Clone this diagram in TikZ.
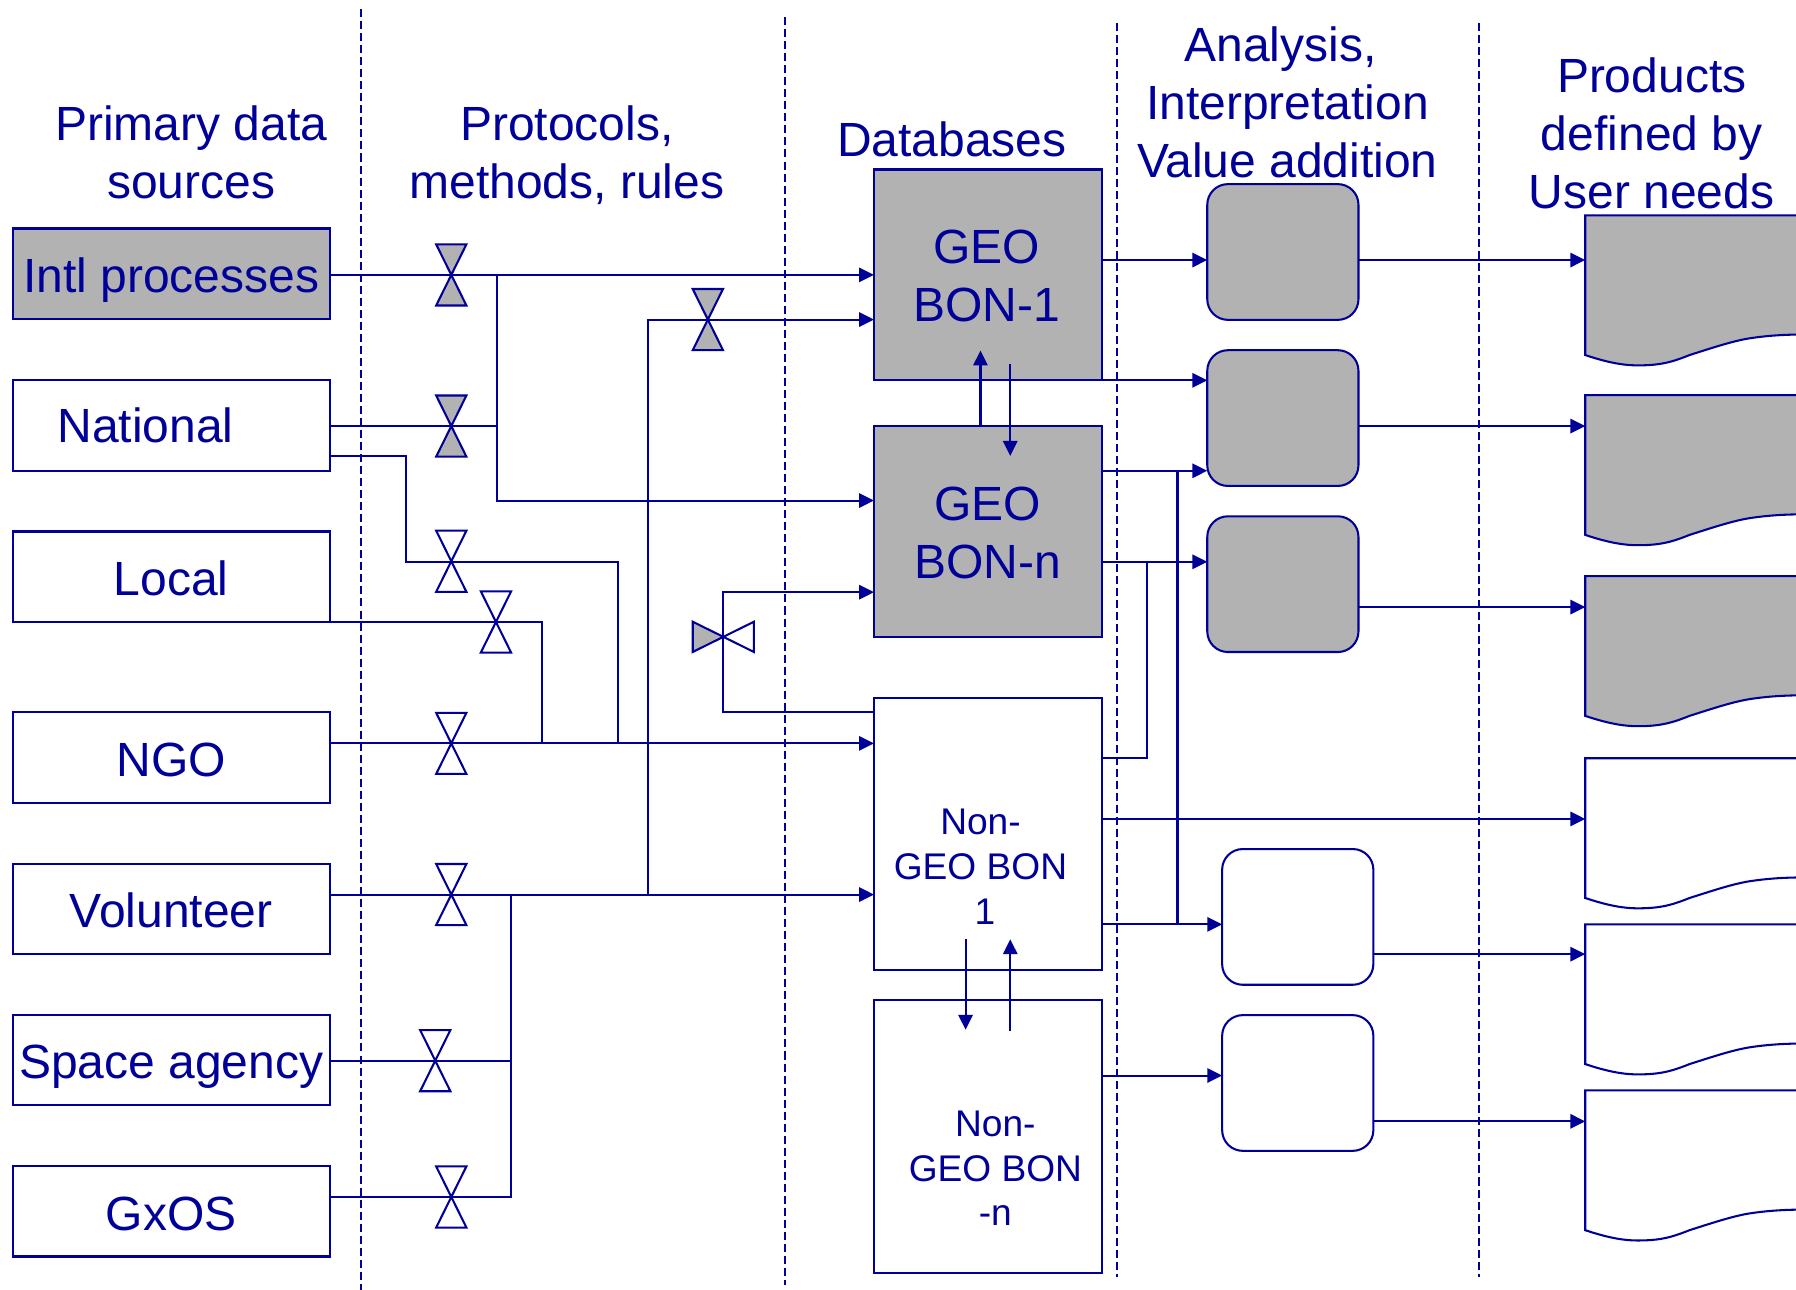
\documentclass[tikz,border=0pt]{standalone}
\usepackage{fontspec}
\setmainfont{Liberation Sans}
\usetikzlibrary{arrows.meta}
\definecolor{bl}{HTML}{000099}
\definecolor{gy}{HTML}{B2B2B2}
\newcommand{\bigfont}{\fontsize{41.9}{50.6}\selectfont}
\newcommand{\smallfont}{\fontsize{32.4}{39.2}\selectfont}
\newcommand{\vvalve}[4]{%
  \node[valvebox] (#1) at (#2,#3) {};
  \draw[flow,fill=#4] (#1.north west) -- (#1.north east) -- (#1.south west) -- (#1.south east) -- cycle;}
\newcommand{\docu}[3]{%
  \coordinate (#1) at (1384,#2);
  \draw[flow,fill=#3] (1578,#2) -- (1384,#2) -- ++(0,122)
    .. controls +(18,6) and +(-14,0) .. ++(46,9)
    .. controls +(20,0) and +(-15,6) .. ++(45,-9)
    .. controls +(22,-7) and +(-15,2) .. ++(55,-15)
    .. controls +(14,-2) and +(-20,0) .. ++(48,-3) -- (1578,#2+104);}
\tikzset{
  flow/.style={draw=bl,line width=1.8pt},
  arr/.style={flow,-{Triangle[length=13pt,width=12.5pt]}},
  sep/.style={draw=bl,line width=1.6pt,dash pattern=on 7pt off 3.5pt},
  boxn/.style={draw=bl,line width=1.8pt,fill=white,minimum width=277pt,minimum height=79pt,inner sep=0pt,text=bl,font=\bigfont,text height=33pt,text depth=0pt},
  dbbox/.style={draw=bl,line width=1.8pt,fill=gy,minimum width=199pt,inner sep=0pt,text=bl,font=\bigfont,align=center},
  rbox/.style={draw=bl,line width=1.8pt,rounded corners=18pt,minimum width=132pt,minimum height=118.5pt,inner sep=0pt},
  valvebox/.style={minimum width=26pt,minimum height=53pt,inner sep=0pt},
  hd/.style={text=bl,font=\bigfont,align=center,inner sep=0pt},
  sm/.style={text=bl,font=\smallfont,align=center,inner sep=0pt},
}
\begin{document}
\begin{tikzpicture}[x=1pt,y=-1pt]
\useasboundingbox (0,0) rectangle (1568,1126);
\fill[white] (0,0) rectangle (1568,1126);
% separators
\coordinate (s1a) at (315,8); \coordinate (s1b) at (315,1126);
\coordinate (s2a) at (685,15); \coordinate (s2b) at (685,1122);
\coordinate (s3a) at (975,20); \coordinate (s3b) at (975,1115);
\coordinate (s4a) at (1291,20); \coordinate (s4b) at (1291,1115);
\draw[sep] (s1a) -- (s1b); \draw[sep] (s2a) -- (s2b);
\draw[sep] (s3a) -- (s3b); \draw[sep] (s4a) -- (s4b);
% headers
\node[hd] (h1) at (167,133) {Primary data\\sources};
\node[hd] (h2) at (495,135.5) {Protocols,\\methods, rules};
\node[hd] (h3) at (831,122) {Databases};
\node[hd] (h4) at (1124,89) {Analysis,\hspace*{12pt}\\Interpretation\\Value addition};
\node[hd] (h5) at (1442,116.5) {Products\\defined by\\User needs};
% source boxes
\node[boxn,fill=gy] (intl) at (149.5,239) {Intl processes};
\node[boxn] (nat) at (149.5,371.5) {};
\node[hd] (natt) at (127,371) {National};
\node[boxn] (loc) at (149.5,503.5) {Local};
\node[boxn] (ngo) at (149.5,661.5) {NGO};
\node[boxn] (vol) at (149.5,793.5) {Volunteer};
\node[boxn] (spa) at (149.5,925.5) {Space agency};
\node[boxn] (gxo) at (149.5,1057.5) {GxOS};
% databases
\node[dbbox,minimum height=184pt] (g1) at (862.5,240) {};
\node[hd] (g1t) at (861.5,241) {GEO\\BON-1};
\node[dbbox,minimum height=184pt] (gn) at (862.5,464) {};
\node[hd] (gnt) at (862.5,465) {GEO\\BON-n};
\node[dbbox,fill=white,minimum height=238pt] (n1) at (862.5,728) {};
\node[dbbox,fill=white,minimum height=238pt] (nn) at (862.5,992) {};
\node[sm] (n1t) at (856,756.5) {Non-\\GEO BON\\\hspace*{8pt}1};
\node[sm] (nnt) at (869,1020) {Non-\\GEO BON\\-n};
% analysis boxes
\node[rbox,fill=gy] (a1) at (1120,220) {};
\node[rbox,fill=gy] (a2) at (1120,365) {};
\node[rbox,fill=gy] (a3) at (1120,510) {};
\node[rbox,fill=white] (a4) at (1133,800.5) {};
\node[rbox,fill=white] (a5) at (1133,945.5) {};
% products
\docu{p1}{188}{gy}
\docu{p2}{345}{gy}
\docu{p3}{503}{gy}
\docu{p4}{662}{white}
\docu{p5}{807}{white}
\docu{p6}{952}{white}
% valves
\vvalve{v1}{394}{240}{gy}
\vvalve{v2}{394}{372}{gy}
\vvalve{v3}{618}{279}{gy}
\vvalve{v4}{394}{490}{white}
\vvalve{v5}{433}{543}{white}
\vvalve{v6}{394}{649}{white}
\vvalve{v7}{394}{781}{white}
\vvalve{v8}{380}{926}{white}
\vvalve{v9}{394}{1045}{white}
\node[minimum width=53pt,minimum height=26pt,inner sep=0pt] (v10) at (631.5,556) {};
\draw[flow,fill=gy] (v10.north west) -- (v10.center) -- (v10.south west) -- cycle;
\draw[flow,fill=white] (v10.north east) -- (v10.center) -- (v10.south east) -- cycle;
% left-side ports and junctions
\coordinate (intlP) at (288,240); \coordinate (g1A) at (763,240);
\coordinate (jA) at (433.5,240); \coordinate (gnA) at (763,437);
\coordinate (natP) at (288,372); \coordinate (jB) at (433.5,372);
\coordinate (natQ) at (288,398);
\coordinate (jC) at (539.5,649);
\coordinate (locP) at (288,543); \coordinate (jD) at (473.5,649);
\coordinate (ngoP) at (288,649); \coordinate (n1A) at (763,649);
\coordinate (volP) at (288,781); \coordinate (n1B) at (763,781);
\coordinate (jE) at (566,781); \coordinate (g1B) at (763,279);
\coordinate (jF) at (446.5,781); \coordinate (jG) at (446.5,926);
\coordinate (spaP) at (288,926); \coordinate (gxoP) at (288,1045);
\coordinate (n1C) at (763,622); \coordinate (gnB) at (763,517);
\draw[arr] (intlP) -- (g1A);
\draw[arr] (jA) -- (433.5,437) -- (gnA);
\draw[flow] (natP) -- (jB);
\draw[flow] (natQ) -- (354.5,398) -- (354.5,490.5) -- (539.5,490.5) -- (jC);
\draw[flow] (locP) -- (473.5,543) -- (jD);
\draw[arr] (ngoP) -- (n1A);
\draw[arr] (volP) -- (n1B);
\draw[arr] (jE) -- (566,279) -- (g1B);
\draw[flow] (jF) -- (446.5,1045) -- (gxoP);
\draw[flow] (spaP) -- (jG);
\draw[arr] (n1C) -- (631.5,622) -- (631.5,517) -- (gnB);
% between databases
\coordinate (u1) at (856,372); \coordinate (u2) at (856,306);
\coordinate (d1) at (882,318); \coordinate (d2) at (882,398);
\draw[arr] (u1) -- (u2); \draw[arr] (d1) -- (d2);
\coordinate (d3) at (843,820); \coordinate (d4) at (843,899);
\coordinate (u3) at (882,900); \coordinate (u4) at (882,820);
\draw[arr] (d3) -- (d4); \draw[arr] (u3) -- (u4);
% database to analysis
\coordinate (g1R) at (962,227); \coordinate (a1L) at (1054,227);
\coordinate (g1S) at (962,332); \coordinate (a2L) at (1054,332);
\coordinate (gnR) at (962,411); \coordinate (a2M) at (1054,411);
\coordinate (gnS) at (962,490.5); \coordinate (a3L) at (1054,490.5);
\coordinate (n1R) at (962,662); \coordinate (jH) at (1001,490.5);
\coordinate (n1S) at (962,715);
\coordinate (n1T) at (962,807); \coordinate (a4L) at (1067,807);
\coordinate (jI) at (1028,807); \coordinate (jJ) at (1028,411);
\coordinate (nnR) at (962,939); \coordinate (a5L) at (1067,939);
\draw[arr] (g1R) -- (a1L);
\draw[arr] (g1S) -- (a2L);
\draw[arr] (gnR) -- (a2M);
\draw[arr] (gnS) -- (a3L);
\draw[flow] (n1R) -- (1001,662) -- (jH);
\draw[arr] (n1T) -- (a4L);
\draw[flow] (jI) -- (jJ);
\draw[arr] (nnR) -- (a5L);
% to products
\coordinate (a1R) at (1186,227); \coordinate (p1A) at (1384,227);
\coordinate (a2R) at (1186,372); \coordinate (p2A) at (1384,372);
\coordinate (a3R) at (1186,530); \coordinate (p3A) at (1384,530);
\coordinate (p4A) at (1384,715);
\coordinate (a4R) at (1199,833); \coordinate (p5A) at (1384,833);
\coordinate (a5R) at (1199,979); \coordinate (p6A) at (1384,979);
\draw[arr] (a1R) -- (p1A);
\draw[arr] (a2R) -- (p2A);
\draw[arr] (a3R) -- (p3A);
\draw[arr] (n1S) -- (p4A);
\draw[arr] (a4R) -- (p5A);
\draw[arr] (a5R) -- (p6A);
\end{tikzpicture}
\end{document}
